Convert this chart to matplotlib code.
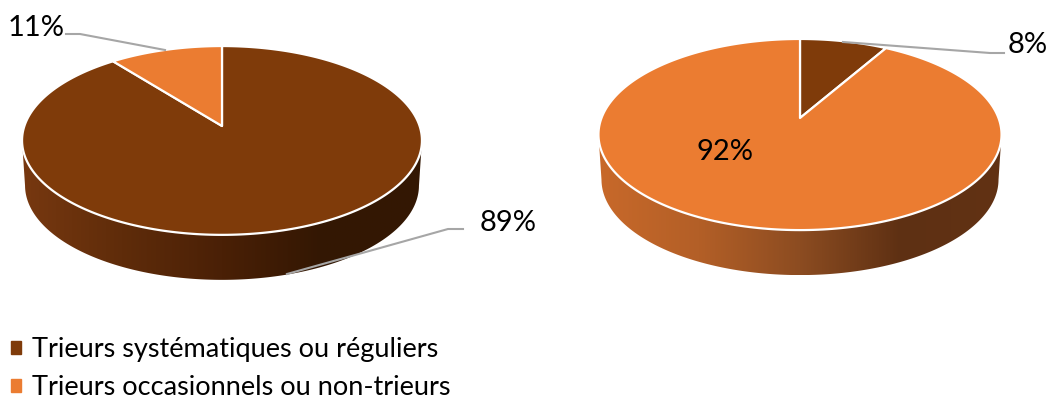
import numpy as np
import matplotlib
matplotlib.use("Agg")
import matplotlib.pyplot as plt
from matplotlib.colors import LinearSegmentedColormap
from matplotlib.patches import Patch, Polygon

plt.rcParams["font.family"] = ["Lato", "DejaVu Sans"]

legend_labels = ["Trieurs systématiques ou réguliers", "Trieurs occasionnels ou non-trieurs"]
left_values = [89.4, 10.6]
right_values = [8.3, 91.7]

brown = "#7f3b0a"
orange = "#eb7c31"
grey = "#a6a6a6"

left_side = ["#773810", "#5f2c0a", "#4a2006", "#331703", "#341803"]
right_side = ["#c8692a", "#b35f27", "#8c4c21", "#5e3013", "#623214"]


def project(angle, pie):
    # angle is clockwise from the top, gives a circle seen in perspective
    u = np.sin(angle)
    v = np.cos(angle)
    den = 1 + pie["k"] * v
    return pie["cx"] + pie["b"] * u / den, pie["cy"] - pie["a"] * v / den


def draw_pie(ax, values, side_colors, pie):
    # side first, the top is drawn over it
    t = np.linspace(0, 2 * np.pi, 721)
    x, y = project(t, pie)
    mid = pie["cx"] + (x - pie["cx"]) * 0.985
    low = y + pie["depth"]
    i_right = np.argmax(x)
    i_left = np.argmin(x)
    lower = np.arange(i_right, i_left + 1)
    outline = np.concatenate([
        np.column_stack((x[lower], y[lower])),
        np.column_stack((mid[lower][::-1], low[lower][::-1])),
    ])
    cmap = LinearSegmentedColormap.from_list("side", side_colors)
    img = ax.imshow(
        np.linspace(0, 1, 256).reshape(1, -1),
        cmap=cmap,
        extent=(x.min(), x.max(), low.max(), y.min()),
        aspect="auto",
        zorder=1,
    )
    clip = Polygon(outline, closed=True, transform=ax.transData, fc="none", ec="none")
    ax.add_patch(clip)
    img.set_clip_path(clip)

    start = 0
    for value, color in zip(values, [brown, orange]):
        stop = start + value / sum(values)
        a = np.linspace(start, stop, 300) * 2 * np.pi
        wx, wy = project(a, pie)
        ax.fill(
            np.r_[pie["cx"], wx],
            np.r_[pie["cy"], wy],
            facecolor=color,
            edgecolor="white",
            linewidth=1.6,
            joinstyle="round",
            zorder=2,
        )
        start = stop


fig = plt.figure(figsize=(10.51, 4), dpi=100)
ax = fig.add_axes([0, 0, 1, 1])

pie_left = {"cx": 222, "cy": 126, "a": 92.2, "b": 197.6, "k": 0.153, "depth": 45}
pie_right = {"cx": 800, "cy": 118, "a": 92.7, "b": 198.5, "k": 0.173, "depth": 45}

draw_pie(ax, left_values, left_side, pie_left)
draw_pie(ax, right_values, right_side, pie_right)

ax.set_xlim(0, 1051)
ax.set_ylim(400, 0)
ax.axis("off")

# leader lines
ax.plot([66, 80, 165], [34, 34, 50], color=grey, lw=1.5, zorder=3)
ax.plot([287, 448, 463], [274, 229, 229], color=grey, lw=1.5, zorder=3)
ax.plot([843, 990, 1004], [42, 53, 53], color=grey, lw=1.5, zorder=3)

ax.text(8, 28, f"{left_values[1]:.0f}%", fontsize=21, va="center", color="black", zorder=4)
ax.text(480, 223, f"{left_values[0]:.0f}%", fontsize=21, va="center", color="black", zorder=4)
ax.text(1008, 45, f"{right_values[0]:.0f}%", fontsize=21, va="center", color="black", zorder=4)
ax.text(696, 152, f"{right_values[1]:.0f}%", fontsize=21, va="center", color="black", zorder=4)

handles = [Patch(color=brown), Patch(color=orange)]
ax.legend(
    handles,
    legend_labels,
    loc="upper left",
    bbox_to_anchor=(0, 1 - 326 / 400),
    bbox_transform=ax.transAxes,
    frameon=False,
    fontsize=19.5,
    handlelength=0.37,
    handleheight=0.37,
    handletextpad=0.4,
    labelspacing=0.5,
    borderaxespad=0,
    borderpad=0.4,
)

fig.savefig("out.png", dpi=100)
plt.close(fig)
